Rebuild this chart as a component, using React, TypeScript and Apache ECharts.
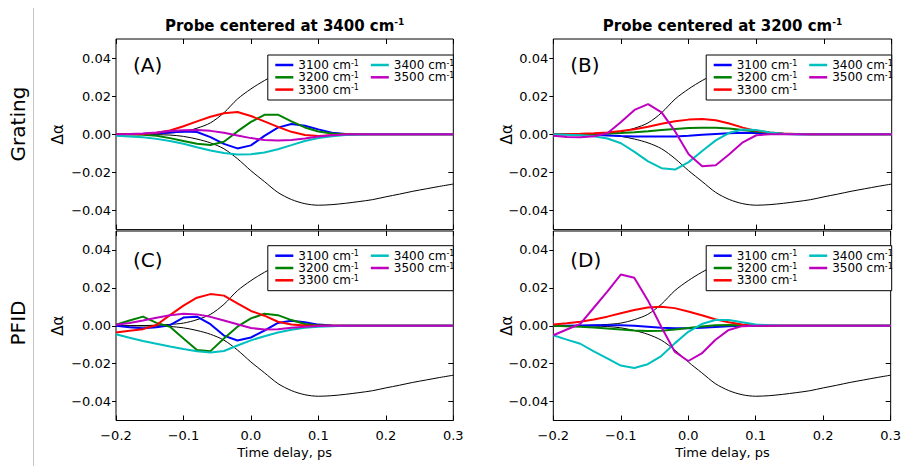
import React, { useEffect, useRef } from 'react';
import * as echarts from 'echarts';

const FONT = '"DejaVu Sans", sans-serif';

// Time delay grid (ps)
const TIME = [-0.2, -0.18, -0.16, -0.14, -0.12, -0.1, -0.08, -0.06, -0.04, -0.02, 0, 0.02, 0.04, 0.06, 0.08, 0.1, 0.12, 0.14, 0.16, 0.18, 0.2, 0.22, 0.24, 0.26, 0.28, 0.3];

// Black reference curves (same in every panel)
const REF_FALL = [0, 0, -0.0001, -0.0002, -0.0004, -0.0011, -0.0025, -0.0045, -0.0076, -0.0128, -0.0191, -0.0248, -0.0305, -0.0342, -0.0364, -0.0372, -0.0369, -0.0362, -0.0353, -0.0343, -0.0328, -0.0314, -0.0299, -0.0286, -0.0273, -0.0261];
const REF_RISE = [0, 0, 0.0001, 0.0003, 0.0007, 0.0014, 0.0032, 0.006, 0.0113, 0.0185, 0.0238, 0.0282, 0.0318, 0.0345, 0.0362, 0.0368, 0.0366, 0.036, 0.0352, 0.0342, 0.033, 0.0316, 0.0302, 0.0288, 0.0275, 0.0262];

// (A) Grating, probe 3400
const A_3100 = [0, 0, 0.0002, 0.0006, 0.001, 0.0015, 0.0012, -0.0015, -0.005, -0.0074, -0.0058, -0.0008, 0.0035, 0.0054, 0.0045, 0.0026, 0.0008, 0.0001, 0, 0, 0, 0, 0, 0, 0, 0];
const A_3200 = [0, 0, -0.0002, -0.0008, -0.002, -0.0035, -0.005, -0.0056, -0.0039, 0.0015, 0.0065, 0.0102, 0.0103, 0.0068, 0.0036, 0.0015, 0.0004, 0, 0, 0, 0, 0, 0, 0, 0, 0];
const A_3300 = [0, 0, 0.0002, 0.0008, 0.002, 0.0042, 0.0068, 0.0092, 0.011, 0.0117, 0.0096, 0.0068, 0.0039, 0.0013, -0.0004, -0.0009, -0.0005, -0.0001, 0, 0, 0, 0, 0, 0, 0, 0];
const A_3400 = [-0.0008, -0.0011, -0.0016, -0.0024, -0.0035, -0.005, -0.0068, -0.0085, -0.0098, -0.0106, -0.0105, -0.0095, -0.0078, -0.0057, -0.0035, -0.002, -0.001, -0.0004, -0.0001, 0, 0, 0, 0, 0, 0, 0];
const A_3500 = [0, 0.0001, 0.0004, 0.001, 0.0017, 0.0021, 0.0022, 0.0018, 0.0008, -0.0006, -0.002, -0.003, -0.0033, -0.003, -0.0022, -0.0012, -0.0005, -0.0001, 0, 0, 0, 0, 0, 0, 0, 0];

// (B) Grating, probe 3200
const B_3100 = [0, 0, -0.0001, -0.0003, -0.0006, -0.0009, -0.0011, -0.0012, -0.0012, -0.0011, -0.0008, -0.0003, 0.0002, 0.0006, 0.0008, 0.0007, 0.0004, 0.0002, 0, 0, 0, 0, 0, 0, 0, 0];
const B_3200 = [0, 0, 0.0001, 0.0002, 0.0004, 0.0007, 0.0011, 0.0016, 0.0022, 0.0028, 0.0033, 0.0035, 0.0034, 0.003, 0.0023, 0.0015, 0.0008, 0.0003, 0.0001, 0, 0, 0, 0, 0, 0, 0];
const B_3300 = [0, 0.0001, 0.0003, 0.0006, 0.001, 0.0017, 0.0027, 0.004, 0.0055, 0.0068, 0.0077, 0.008, 0.0074, 0.0057, 0.0035, 0.0018, 0.0009, 0.0004, 0.0001, 0, 0, 0, 0, 0, 0, 0];
const B_3400 = [0, -0.0002, -0.0005, -0.001, -0.0022, -0.0047, -0.0092, -0.0142, -0.0178, -0.0185, -0.0146, -0.0088, -0.0032, 0.0008, 0.0025, 0.0022, 0.001, 0.0003, 0, 0, 0, 0, 0, 0, 0, 0];
const B_3500 = [-0.0008, -0.0014, -0.0016, -0.001, 0.0005, 0.0065, 0.0128, 0.0158, 0.0115, 0.0015, -0.0105, -0.0168, -0.0162, -0.0105, -0.0042, -0.0005, 0, 0, 0, 0, 0, 0, 0, 0, 0, 0];

// (C) PFID, probe 3400
const C_3100 = [0, -0.0008, -0.0013, -0.0008, 0.0003, 0.0043, 0.0048, 0.0008, -0.0052, -0.0078, -0.0062, -0.0026, 0.0015, 0.0026, 0.0018, 0.0006, 0.0001, 0, 0, 0, 0, 0, 0, 0, 0, 0];
const C_3200 = [0.0005, 0.0028, 0.0048, 0.0015, -0.0005, -0.0067, -0.0128, -0.0134, -0.0067, -0.0005, 0.0039, 0.0063, 0.0056, 0.003, 0.0009, 0.0002, 0, 0, 0, 0, 0, 0, 0, 0, 0, 0];
const C_3300 = [-0.0035, -0.0027, -0.0018, 0.0004, 0.0056, 0.0106, 0.0148, 0.0167, 0.0159, 0.0118, 0.0078, 0.0053, 0.0021, 0.0007, 0.0001, 0, 0, 0, 0, 0, 0, 0, 0, 0, 0, 0];
const C_3400 = [-0.0045, -0.0063, -0.008, -0.0095, -0.011, -0.0123, -0.0135, -0.0141, -0.0133, -0.0104, -0.0077, -0.0055, -0.0036, -0.0021, -0.0011, -0.0005, -0.0002, 0, 0, 0, 0, 0, 0, 0, 0, 0];
const C_3500 = [0.0005, 0.0015, 0.0028, 0.0042, 0.0055, 0.0063, 0.006, 0.0047, 0.0028, 0.0008, -0.0012, -0.002, -0.0018, -0.0011, -0.0005, -0.0001, 0, 0, 0, 0, 0, 0, 0, 0, 0, 0];

// (D) PFID, probe 3200
const D_3100 = [0, 0, 0.0001, 0.0002, 0.0003, 0.0003, 0, -0.0005, -0.001, -0.0013, -0.0013, -0.001, -0.0006, -0.0002, 0, 0, 0, 0, 0, 0, 0, 0, 0, 0, 0, 0];
const D_3200 = [0, -0.0002, -0.0005, -0.0009, -0.0014, -0.002, -0.0025, -0.0028, -0.0026, -0.002, -0.0012, -0.0004, 0.0002, 0.0004, 0.0003, 0.0001, 0, 0, 0, 0, 0, 0, 0, 0, 0, 0];
const D_3300 = [0.0006, 0.0013, 0.0021, 0.0033, 0.0048, 0.0066, 0.0083, 0.0096, 0.01, 0.0093, 0.0075, 0.0055, 0.0034, 0.0018, 0.0007, 0.0002, 0, 0, 0, 0, 0, 0, 0, 0, 0, 0];
const D_3400 = [-0.005, -0.0073, -0.0095, -0.0135, -0.0172, -0.021, -0.0223, -0.0203, -0.016, -0.0093, -0.0032, 0.0009, 0.003, 0.003, 0.0018, 0.0007, 0.0002, 0, 0, 0, 0, 0, 0, 0, 0, 0];
const D_3500 = [-0.005, -0.002, 0.001, 0.0095, 0.018, 0.027, 0.0253, 0.0135, -0.0005, -0.0137, -0.0186, -0.0146, -0.0075, -0.0022, -0.0002, 0, 0, 0, 0, 0, 0, 0, 0, 0, 0, 0];

const SERIES_NAMES = ['3100 cm-1', '3200 cm-1', '3300 cm-1', '3400 cm-1', '3500 cm-1'];
const LEGEND_COL1 = ['3100 cm-1', '3200 cm-1', '3300 cm-1'];
const LEGEND_COL2 = ['3400 cm-1', '3500 cm-1'];
const PANEL_DATA = [
  [A_3100, A_3200, A_3300, A_3400, A_3500],
  [B_3100, B_3200, B_3300, B_3400, B_3500],
  [C_3100, C_3200, C_3300, C_3400, C_3500],
  [D_3100, D_3200, D_3300, D_3400, D_3500],
];
const PANEL_LABELS = ['(A)', '(B)', '(C)', '(D)'];
const COLUMN_TITLES = ['3400', '3200'];
const ROW_TITLES = ['Grating', 'PFID'];
const X_TICKS = [-0.2, -0.1, 0, 0.1, 0.2, 0.3];
const Y_TICKS = [-0.04, -0.02, 0, 0.02, 0.04];

const COLORS = ['#0000ff', '#008000', '#ff0000', '#00bfbf', '#bf00bf'];

// Layout (pixels)
const GRIDS = [
  { left: 116, top: 39, width: 337.3, height: 190.6 },
  { left: 553.3, top: 39, width: 338.4, height: 190.6 },
  { left: 116, top: 231, width: 337.3, height: 189.5 },
  { left: 553.3, top: 231, width: 338.4, height: 189.5 },
];
const FRAME_TOP = [55, 55, 245.7, 245.7];
const LABEL_Y = [65, 65, 259.5, 260];
const YLABEL_X = [58, 507];

const fmtY = (v: number) => {
  const s = Math.abs(v).toFixed(2);
  return v < -1e-9 ? '\u2212' + s : s;
};
const fmtX = (v: number) => {
  const s = Math.abs(v).toFixed(1);
  return v < -1e-9 ? '\u2212' + s : s;
};

export default function App() {
  const ref = useRef<HTMLDivElement>(null);
  useEffect(() => {
    if (!ref.current) return;
    const chart = echarts.init(ref.current, undefined, { renderer: 'svg' });

    const xAxis: any[] = [];
    const yAxis: any[] = [];
    const series: any[] = [];
    const legend: any[] = [];
    const graphic: any[] = [];

    const legendText = {
      fontFamily: FONT,
      fontSize: 12,
      color: '#000',
      lineHeight: 12,
      rich: {
        n: { fontFamily: FONT, fontSize: 12, lineHeight: 12, color: '#000' },
        s: { fontFamily: FONT, fontSize: 8, lineHeight: 5, verticalAlign: 'top', color: '#000' },
      },
    };
    const legendFmt = (name: string) => `{n|${name.split(' ')[0]} cm}{s|-1}`;
    const noLine = { show: false, onZero: false };
    const tick = (inside: boolean, length: number, values: number[]) => ({
      show: true, inside, length, customValues: values, lineStyle: { color: '#000', width: 1 },
    });

    GRIDS.forEach((g, i) => {
      const bottomRow = i >= 2;
      xAxis.push({
        gridIndex: i, type: 'value', position: 'bottom', min: -0.2, max: 0.3,
        axisLine: noLine,
        axisTick: tick(true, 5, X_TICKS),
        axisLabel: {
          show: bottomRow, customValues: X_TICKS, formatter: fmtX, fontFamily: FONT, fontSize: 13, color: '#000', margin: 8,
        },
        splitLine: { show: false },
      });
      xAxis.push({
        gridIndex: i, type: 'value', position: 'top', min: -0.2, max: 0.3,
        axisLine: noLine,
        axisTick: tick(true, 5, X_TICKS),
        axisLabel: { show: false },
        splitLine: { show: false },
      });
      yAxis.push({
        gridIndex: i, type: 'value', position: 'left', min: -0.05, max: 0.05,
        axisLine: noLine,
        axisTick: tick(false, 4, Y_TICKS),
        axisLabel: { show: true, customValues: Y_TICKS, formatter: fmtY, fontFamily: FONT, fontSize: 13, color: '#000', margin: 5 },
        splitLine: { show: false },
      });
      yAxis.push({
        gridIndex: i, type: 'value', position: 'right', min: -0.05, max: 0.05,
        axisLine: noLine,
        axisTick: tick(true, 5, Y_TICKS),
        axisLabel: { show: false },
        splitLine: { show: false },
      });

      const xi = i * 2;
      const yi = i * 2;
      [REF_FALL, REF_RISE].forEach((arr, k) => {
        series.push({
          type: 'line', name: k === 0 ? 'ref-fall' : 'ref-rise', xAxisIndex: xi, yAxisIndex: yi,
          data: TIME.map((t, j) => [t, arr[j]]),
          showSymbol: false, symbol: 'none', smooth: 0.3, silent: true, z: 2,
          lineStyle: { color: '#000', width: 1 }, itemStyle: { color: '#000' },
        });
      });
      PANEL_DATA[i].forEach((arr, k) => {
        series.push({
          type: 'line', name: SERIES_NAMES[k], xAxisIndex: xi, yAxisIndex: yi,
          data: TIME.map((t, j) => [t, arr[j]]),
          showSymbol: false, symbol: 'none', smooth: false, silent: true, z: 2,
          lineStyle: { color: COLORS[k], width: 2 }, itemStyle: { color: COLORS[k] },
        });
      });

      const plotRight = g.left + g.width;
      const frameX = plotRight - 185.5;
      const frameY = FRAME_TOP[i];
      graphic.push({
        type: 'rect', z: 3,
        shape: { x: frameX, y: frameY, width: 185.5, height: 45 },
        style: { fill: '#fff', stroke: '#000', lineWidth: 1 },
      });
      [LEGEND_COL1, LEGEND_COL2].forEach((names, c) => {
        legend.push({
          data: names, orient: 'vertical', left: frameX + 7.5 + c * 95.5, top: frameY + 4,
          itemWidth: 18, itemHeight: 2.5, icon: 'rect', itemGap: 0.3, padding: 0,
          selectedMode: false, textStyle: legendText, formatter: legendFmt, z: 4,
        });
      });

      graphic.push({
        type: 'text', x: g.left + 17, y: LABEL_Y[i], z: 5,
        style: { text: PANEL_LABELS[i], font: `20px ${FONT}`, fill: '#000', align: 'left', verticalAlign: 'middle' },
      });
      graphic.push({
        type: 'text', x: YLABEL_X[i % 2], y: g.top + g.height / 2, rotation: Math.PI / 2, z: 5,
        style: { text: '\u0394\u03b1', font: `15px ${FONT}`, fill: '#000', align: 'center', verticalAlign: 'middle' },
      });
      if (bottomRow) {
        graphic.push({
          type: 'text', x: g.left + g.width / 2, y: 452, z: 5,
          style: { text: 'Time delay, ps', font: `13px ${FONT}`, fill: '#000', align: 'center', verticalAlign: 'middle' },
        });
      } else {
        graphic.push({
          type: 'text', x: g.left + g.width / 2, y: 26, z: 5,
          style: {
            text: `{t|Probe centered at ${COLUMN_TITLES[i]} cm}{s|-1}`,
            align: 'center', verticalAlign: 'middle',
            rich: {
              t: { fontFamily: FONT, fontSize: 15, fontWeight: 'bold', lineHeight: 18, fill: '#000', color: '#000' },
              s: { fontFamily: FONT, fontSize: 9, fontWeight: 'bold', lineHeight: 9, verticalAlign: 'top', fill: '#000', color: '#000' },
            },
          },
        });
      }
    });

    graphic.push({
      type: 'line', z: 1,
      shape: { x1: 33.5, y1: 8, x2: 33.5, y2: 466 },
      style: { stroke: '#c4c4c4', lineWidth: 1 },
    });
    [124, 323].forEach((y, r) => {
      graphic.push({
        type: 'text', x: 18, y, rotation: Math.PI / 2, z: 5,
        style: { text: ROW_TITLES[r], font: `20px ${FONT}`, fill: '#000', align: 'center', verticalAlign: 'middle' },
      });
    });

    chart.setOption({
      animation: false,
      backgroundColor: '#fff',
      textStyle: { fontFamily: FONT },
      grid: GRIDS.map((g) => ({
        left: g.left, top: g.top, width: g.width, height: g.height,
        show: true, borderColor: '#000', borderWidth: 1, backgroundColor: 'transparent', containLabel: false,
      })),
      xAxis,
      yAxis,
      legend,
      series,
      graphic,
    });

    return () => chart.dispose();
  }, []);

  return (
    <div
      ref={ref}
      style={{ position: 'fixed', left: 0, top: 0, width: 904, height: 469, background: '#fff' }}
    />
  );
}
